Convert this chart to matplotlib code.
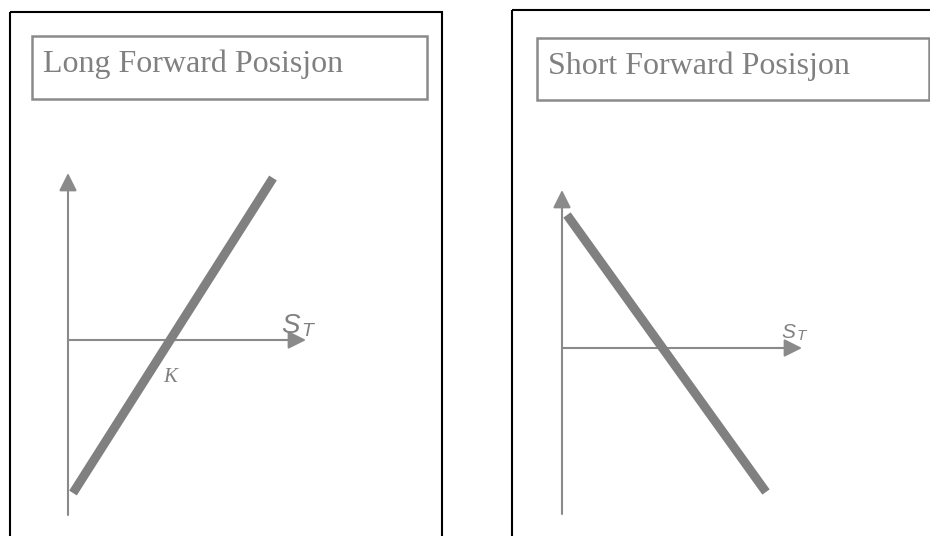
import matplotlib.pyplot as plt
from matplotlib.patches import Rectangle

# payoff lines (strike K at about 1 on the S_T axis)
spot_long = [0.05, 2.05]
payoff_long = [-1.53, 1.62]
spot_short = [0.05, 2.04]
payoff_short = [1.33, -1.44]

titles = ['Long Forward Posisjon', 'Short Forward Posisjon']

GREY = '#808080'
AXGREY = '#8a8a8a'

fig = plt.figure(figsize=(9.3, 5.36), dpi=100)

# frame layer in pixel coordinates
fr = fig.add_axes([0, 0, 1, 1])
fr.set_xlim(0, 930)
fr.set_ylim(536, 0)
fr.axis('off')

fr.add_patch(Rectangle((10, 12), 432, 540, fill=False, ec='black', lw=1.5, clip_on=False))
fr.add_patch(Rectangle((512, 10), 440, 540, fill=False, ec='black', lw=1.5, clip_on=False))
fr.add_patch(Rectangle((32, 36), 395, 63, fill=False, ec=AXGREY, lw=1.8))
fr.add_patch(Rectangle((537, 38), 392, 62, fill=False, ec=AXGREY, lw=1.8))
fr.text(43, 72, titles[0], family='Liberation Serif', fontsize=23, color=GREY, va='baseline')
fr.text(548, 74, titles[1], family='Liberation Serif', fontsize=23, color=GREY, va='baseline')


def panel(ox, oy):
    # 100 px per unit, origin at the axis crossing
    ax = fig.add_axes([0, 0, 1, 1])
    ax.set_xlim(-ox / 100, (930 - ox) / 100)
    ax.set_ylim((oy - 536) / 100, oy / 100)
    ax.axis('off')
    ax.patch.set_visible(False)
    return ax


def arrow(ax, start, end):
    ax.annotate('', xy=end, xytext=start,
                arrowprops=dict(arrowstyle='-|>,head_length=1.0,head_width=0.5',
                                color=AXGREY, lw=1.5, mutation_scale=10.8,
                                shrinkA=0, shrinkB=0))


# long forward
ax1 = panel(68, 340)
arrow(ax1, (0, -1.75), (0, 1.67))
arrow(ax1, (0, 0), (2.38, 0))
ax1.plot(spot_long, payoff_long, color=GREY, lw=6.5, solid_capstyle='butt', zorder=3)
ax1.text(2.13, 0.07, 'S', family='Liberation Sans', style='italic', fontsize=20, color=GREY)
ax1.text(2.33, 0.04, 'T', family='Liberation Sans', style='italic', fontsize=14, color=GREY)
ax1.text(0.95, -0.42, 'K', family='Liberation Serif', style='italic', fontsize=15, color=GREY)

# short forward
ax2 = panel(562, 348)
arrow(ax2, (0, -1.66), (0, 1.58))
arrow(ax2, (0, 0), (2.40, 0))
ax2.plot(spot_short, payoff_short, color=GREY, lw=6.5, solid_capstyle='butt', zorder=3)
ax2.text(2.19, 0.10, 'S', family='Liberation Sans', style='italic', fontsize=15, color=GREY)
ax2.text(2.35, 0.08, 'T', family='Liberation Sans', style='italic', fontsize=11, color=GREY)

fig.savefig('out.png', dpi=100)
